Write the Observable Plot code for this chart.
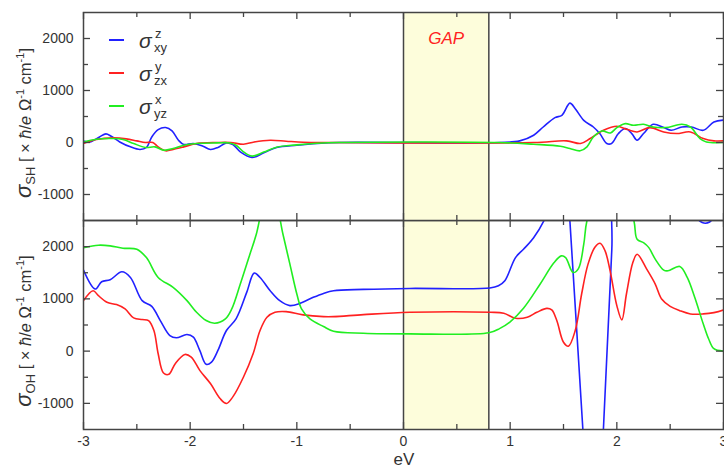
<!DOCTYPE html>
<html><head><meta charset="utf-8">
<script src="https://cdn.jsdelivr.net/npm/d3@7"></script>
<script src="https://cdn.jsdelivr.net/npm/@observablehq/plot@0.6"></script>
<style>
html,body{margin:0;padding:0;background:#fff;}
#chart{position:relative;width:724px;height:468px;overflow:hidden;font-family:"Liberation Sans",Arial,sans-serif;color:#333;}
#chart svg{position:absolute;left:0;}
.ylab{position:absolute;white-space:nowrap;font-size:16.5px;line-height:1;transform:translate(-50%,-50%) rotate(-90deg);}
.ylab .s{font-style:italic;font-size:22px;}
.ylab sub{font-size:13px;}
.ylab sup{font-size:11px;}
.leg{position:absolute;line-height:1;white-space:nowrap;}
.xlab{position:absolute;font-size:17px;line-height:1;transform:translate(-50%,-50%);}
</style></head>
<body><div id="chart"></div>
<script>
// ---- data: [eV, value] ----
const sh_xy = [[-3.0,31],[-2.94,11],[-2.85,107],[-2.79,165],[-2.74,120],[-2.66,11],[-2.56,-84],[-2.47,-134],[-2.41,-96],[-2.36,107],[-2.30,248],[-2.23,287],[-2.17,222],[-2.11,44],[-2.06,-38],[-1.97,-19],[-1.88,-71],[-1.81,-134],[-1.74,-96],[-1.66,-8],[-1.6,-40],[-1.53,-180],[-1.42,-287],[-1.31,-199],[-1.19,-96],[-1.0,-52],[-0.81,-19],[-0.6,0],[0.9,0],[1.09,31],[1.22,140],[1.31,298],[1.42,478],[1.485,522],[1.56,757],[1.61,650],[1.69,426],[1.78,298],[1.84,172],[1.906,-19],[1.95,-19],[2.015,172],[2.08,268],[2.14,172],[2.19,44],[2.25,172],[2.34,350],[2.44,287],[2.51,235],[2.61,298],[2.70,298],[2.81,235],[2.91,394],[3.0,430]];
const sh_zx = [[-3.0,-19],[-2.88,57],[-2.72,88],[-2.60,70],[-2.50,31],[-2.42,0],[-2.35,0],[-2.30,-84],[-2.23,-160],[-2.16,-134],[-2.06,-84],[-1.94,-19],[-1.75,0],[-1.62,0],[-1.50,-33],[-1.40,11],[-1.25,44],[-1.10,25],[-0.94,6],[-0.7,0],[1.22,0],[1.53,31],[1.66,-19],[1.75,76],[1.875,235],[2.0,312],[2.1,248],[2.19,203],[2.31,287],[2.44,203],[2.56,172],[2.69,203],[2.81,76],[2.91,31],[3.0,31]];
const sh_yz = [[-3.0,11],[-2.88,63],[-2.72,76],[-2.63,57],[-2.53,-19],[-2.42,-96],[-2.33,-84],[-2.25,-147],[-2.16,-115],[-2.06,-52],[-1.94,-19],[-1.75,-8],[-1.63,-8],[-1.57,-52],[-1.50,-180],[-1.42,-262],[-1.31,-185],[-1.19,-90],[-1.0,-45],[-0.81,-15],[-0.6,0],[0.9,0],[1.22,-33],[1.47,-71],[1.56,-115],[1.656,-160],[1.72,-84],[1.78,107],[1.86,222],[1.94,184],[2.0,287],[2.08,363],[2.156,331],[2.25,350],[2.34,298],[2.46,287],[2.61,350],[2.69,298],[2.78,76],[2.84,11],[3.0,0]];

const oh_xy = [[-3.0,1550],[-2.89,1188],[-2.83,1328],[-2.75,1366],[-2.64,1518],[-2.56,1410],[-2.45,966],[-2.36,857],[-2.28,585],[-2.19,299],[-2.13,255],[-2.03,318],[-1.97,267],[-1.91,13],[-1.85,-253],[-1.80,-210],[-1.74,13],[-1.66,394],[-1.57,617],[-1.47,1124],[-1.40,1493],[-1.345,1410],[-1.25,1156],[-1.16,966],[-1.065,871],[-0.97,914],[-0.846,1029],[-0.75,1105],[-0.656,1156],[-0.375,1181],[0.06,1200],[0.81,1207],[0.89,1250],[0.95,1346],[1.05,1790],[1.125,1950],[1.22,2170],[1.33,2550],[1.45,3200],[1.53,3480],[1.56,2490],[1.68,-1448],[1.79,-5170],[1.875,-1458],[1.953,1948],[2.0,4000],[2.3,4000],[2.6,3300],[2.7,2700],[2.8,2460],[2.87,2470],[2.95,2700],[3.0,2800]];
const oh_zx = [[-3.0,966],[-2.91,1156],[-2.86,1061],[-2.78,934],[-2.69,890],[-2.61,808],[-2.53,636],[-2.45,604],[-2.39,585],[-2.34,394],[-2.30,-50],[-2.25,-419],[-2.20,-444],[-2.14,-240],[-2.05,-63],[-1.99,-114],[-1.91,-368],[-1.81,-621],[-1.72,-907],[-1.66,-1002],[-1.60,-876],[-1.50,-495],[-1.41,-50],[-1.345,394],[-1.28,648],[-1.205,743],[-1.10,756],[-0.94,693],[-0.75,661],[-0.656,661],[-0.375,699],[0.06,743],[0.81,743],[0.94,724],[1.05,629],[1.16,648],[1.25,743],[1.344,819],[1.39,788],[1.437,585],[1.50,171],[1.546,95],[1.61,394],[1.67,1093],[1.73,1665],[1.796,1995],[1.843,2065],[1.89,1918],[1.937,1537],[2.0,871],[2.047,598],[2.09,1093],[2.15,1696],[2.19,1855],[2.28,1570],[2.36,1284],[2.42,998],[2.50,857],[2.59,775],[2.69,712],[2.81,712],[2.91,737],[3.0,788]];
const oh_yz = [[-3.0,1981],[-2.86,2027],[-2.75,2015],[-2.63,1970],[-2.50,1950],[-2.41,1790],[-2.30,1410],[-2.16,1220],[-2.03,966],[-1.94,743],[-1.85,585],[-1.77,533],[-1.67,617],[-1.61,808],[-1.53,1284],[-1.44,1855],[-1.38,2236],[-1.25,3300],[-1.13,2236],[-1.065,1665],[-1.00,1093],[-0.956,808],[-0.877,617],[-0.75,470],[-0.656,381],[-0.375,343],[0.06,331],[0.8,350],[0.9,430],[1.0,560],[1.125,820],[1.28,1280],[1.41,1690],[1.48,1823],[1.52,1790],[1.59,1505],[1.64,1580],[1.69,2046],[1.72,2500],[1.95,4000],[2.16,2500],[2.19,2141],[2.25,2076],[2.30,1981],[2.36,1760],[2.44,1550],[2.48,1537],[2.59,1620],[2.66,1410],[2.73,1029],[2.81,522],[2.86,236],[2.91,46],[3.0,0]];

const seriesKeys = [["z","xy"],["y","zx"],["x","yz"]];
const seriesColors = ["#2121ff","#ff2121","#21ee21"];
const gapRange = [0, 0.8];
const gapLabel = "GAP";
const xMajor = [-3,-2,-1,0,1,2,3];
const xMinor = [-2.5,-1.5,-0.5,0.5,1.5,2.5];
const yMajor = [-1000,0,1000,2000];
const yMinor = [-500,500,1500];
const xDomain = [-3,3];
const yDomain = [-1500,2500];

const W = 724, ML = 83, MR = 1, PW = W - ML - MR;
const frameColor = "#444";

function panel(series, {height, marginTop, marginBottom, labels, gap}) {
  const PH = height - marginTop - marginBottom;
  const marks = [
    Plot.rect([gapRange], {x1: d => d[0], x2: d => d[1], fill: "#fdfddb"}),
    Plot.ruleX(gapRange, {stroke: frameColor, strokeWidth: 1.5}),
    ...series.map((s, i) => Plot.line(s, {x: d => d[0], y: d => d[1], stroke: seriesColors[i], strokeWidth: 1.6, curve: "catmull-rom", clip: true})),
    Plot.tickX(xMajor, {x: d => d, insetTop: PH - 7, stroke: frameColor, strokeWidth: 1.3}),
    Plot.tickX(xMajor, {x: d => d, insetBottom: PH - 7, stroke: frameColor, strokeWidth: 1.3}),
    Plot.tickX(xMinor, {x: d => d, insetTop: PH - 5, stroke: frameColor, strokeWidth: 1.3}),
    Plot.tickX(xMinor, {x: d => d, insetBottom: PH - 5, stroke: frameColor, strokeWidth: 1.3}),
    Plot.tickY(yMajor, {y: d => d, insetRight: PW - 7, stroke: frameColor, strokeWidth: 1.3}),
    Plot.tickY(yMajor, {y: d => d, insetLeft: PW - 7, stroke: frameColor, strokeWidth: 1.3}),
    Plot.tickY(yMinor, {y: d => d, insetRight: PW - 5, stroke: frameColor, strokeWidth: 1.3}),
    Plot.tickY(yMinor, {y: d => d, insetLeft: PW - 5, stroke: frameColor, strokeWidth: 1.3}),
    Plot.axisY({anchor: "left", ticks: yMajor, tickSize: 0, tickPadding: 10, tickFormat: d => String(d), label: null}),
    Plot.frame({stroke: frameColor, strokeWidth: 1.5})
  ];
  if (labels) marks.push(Plot.axisX({anchor: "bottom", ticks: xMajor, tickSize: 0, tickPadding: 7, tickFormat: d => String(d), label: null}));
  if (gap) marks.push(Plot.text([gapLabel], {x: (gapRange[0] + gapRange[1]) / 2, frameAnchor: "top", dy: 19, text: d => d, fill: "#ff2121", fontSize: 17, fontStyle: "italic"}));
  return Plot.plot({
    width: W, height, marginLeft: ML, marginRight: MR, marginTop, marginBottom,
    x: {domain: xDomain, axis: null},
    y: {domain: yDomain, axis: null},
    style: {fontSize: "14px", fontFamily: "'Liberation Sans', Arial, sans-serif", color: "#333", background: "transparent", overflow: "visible"},
    marks
  });
}

const chart = document.getElementById("chart");
const topPanel = panel([sh_xy, sh_zx, sh_yz], {height: 221, marginTop: 12, marginBottom: 1, labels: false, gap: true});
topPanel.style.top = "0px";
const botPanel = panel([oh_xy, oh_zx, oh_yz], {height: 248, marginTop: 0, marginBottom: 39, labels: true, gap: false});
botPanel.style.top = "220px";
chart.appendChild(botPanel);
chart.appendChild(topPanel);

const ylabs = [["SH", 25, 123], ["OH", 25, 331]];
for (const [sub, cx, cy] of ylabs) {
  const d = document.createElement("div");
  d.className = "ylab";
  d.style.left = cx + "px"; d.style.top = cy + "px";
  d.innerHTML = `<span class="s">σ</span><sub>${sub}</sub> [ × <i>ħ</i>/<i>e</i> Ω<sup>-1</sup> cm<sup>-1</sup>]`;
  chart.appendChild(d);
}
const xl = document.createElement("div");
xl.className = "xlab"; xl.style.left = "404px"; xl.style.top = "459px"; xl.textContent = "eV";
chart.appendChild(xl);

seriesKeys.forEach(([sup, sub], i) => {
  const y0 = 40 + i * 33;
  const line = document.createElement("div");
  line.style.cssText = `position:absolute;left:109px;top:${y0 - 1}px;width:15px;height:2px;background:${seriesColors[i]}`;
  chart.appendChild(line);
  const s = document.createElement("div");
  s.className = "leg"; s.style.cssText += `left:139px;top:${y0 - 10}px;font-size:21px;font-style:italic;`;
  s.textContent = "σ"; chart.appendChild(s);
  const a = document.createElement("div");
  a.className = "leg"; a.style.cssText += `left:155px;top:${y0 - 13}px;font-size:13px;`;
  a.textContent = sup; chart.appendChild(a);
  const b = document.createElement("div");
  b.className = "leg"; b.style.cssText += `left:154px;top:${y0 + 1}px;font-size:13px;`;
  b.textContent = sub; chart.appendChild(b);
});
</script></body></html>
